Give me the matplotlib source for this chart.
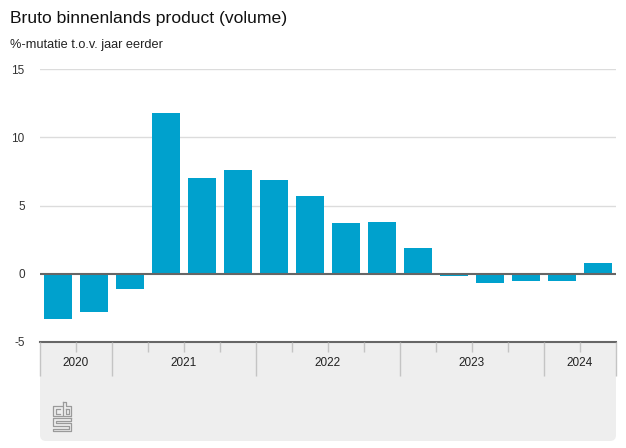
import numpy as np
import matplotlib
matplotlib.use("Agg")
import matplotlib.pyplot as plt
from matplotlib.patches import FancyBboxPatch

# data: year-on-year volume change, 2020 Q3 .. 2024 Q2
quarters = ["2020 Q3", "2020 Q4",
            "2021 Q1", "2021 Q2", "2021 Q3", "2021 Q4",
            "2022 Q1", "2022 Q2", "2022 Q3", "2022 Q4",
            "2023 Q1", "2023 Q2", "2023 Q3", "2023 Q4",
            "2024 Q1", "2024 Q2"]
values = [-3.3, -2.8, -1.1, 11.8, 7.0, 7.6, 6.9, 5.7, 3.7, 3.8,
          1.9, -0.2, -0.7, -0.5, -0.5, 0.8]
years = ["2020", "2021", "2022", "2023", "2024"]
year_counts = [2, 4, 4, 4, 2]
yticks = [-5, 0, 5, 10, 15]

plt.rcParams["font.family"] = ["Liberation Sans", "DejaVu Sans"]

W, H = 626, 448
fig = plt.figure(figsize=(W / 100, H / 100), dpi=100)

# pixel helpers (top-left origin)
def fx(px):
    return px / W

def fy(py):
    return 1 - py / H

x0, x1 = 40, 616
y_top, y_bot = 69, 342
ax = fig.add_axes([fx(x0), fy(y_bot), fx(x1) - fx(x0), fy(y_top) - fy(y_bot)])

x = np.arange(len(values))
ax.bar(x, values, width=0.78, color="#00a1cd", zorder=3)

ax.set_xlim(-0.5, len(values) - 0.5)
ax.set_ylim(-5, 15)
ax.set_yticks(yticks)
ax.set_yticklabels([str(t) for t in yticks], fontsize=8.5, color="#333333")
ax.tick_params(axis="y", length=0, pad=11)
for lbl in ax.get_yticklabels():
    lbl.set_horizontalalignment("right")
ax.set_xticks([])
for s in ["top", "right", "left"]:
    ax.spines[s].set_visible(False)
ax.spines["bottom"].set_color("#666666")
ax.spines["bottom"].set_linewidth(1.5)
for t in [5, 10, 15]:
    ax.axhline(t, color="#dcdcdc", lw=1, zorder=1)
ax.axhline(0, color="#666666", lw=1.5, zorder=4)

# grey panel under the axis
panel = FancyBboxPatch((x0 / 100, (H - 441) / 100), (x1 - x0) / 100, (441 - 336) / 100,
                       boxstyle="round,pad=0,rounding_size=0.06",
                       transform=fig.dpi_scale_trans, facecolor="#eeeeee",
                       edgecolor="none", zorder=-1)
fig.patches.append(panel)

# year band with dividers
ax2 = fig.add_axes([fx(x0), fy(376), fx(x1) - fx(x0), fy(342) - fy(376)])
ax2.set_xlim(-0.5, len(values) - 0.5)
ax2.set_ylim(1, 0)
ax2.axis("off")
bounds = np.cumsum([0] + year_counts) - 0.5
ax2.vlines(bounds, 0, 1, color="#c4c4c4", lw=1, clip_on=False)
minor = [b for b in np.arange(-0.5, len(values)) if not np.any(np.isclose(bounds, b))]
ax2.vlines(minor, 0, 0.3, color="#c4c4c4", lw=1, clip_on=False)
for i, yr in enumerate(years):
    ax2.text((bounds[i] + bounds[i + 1]) / 2, 0.62, yr, ha="center", va="center",
             fontsize=8.5, color="#222222")

# titles
fig.text(fx(10), fy(18), "Bruto binnenlands product (volume)", fontsize=12.6,
         ha="left", va="center", color="#111111")
fig.text(fx(10), fy(45), "%-mutatie t.o.v. jaar eerder", fontsize=9.2,
         ha="left", va="center", color="#222222")

# small cbs logo
logo_paths = [
    [(62, 406), (53, 406), (53, 416), (62, 416)],
    [(60, 408.5), (55.5, 408.5), (55.5, 413.5), (60, 413.5)],
    [(63, 402), (63, 416), (71, 416), (71, 406), (65.5, 406), (65.5, 402), (63, 402)],
    [(66, 408.5), (68.5, 408.5), (68.5, 413.5), (66, 413.5), (66, 408.5)],
    [(71, 418), (53, 418), (53, 425.5), (68.5, 425.5), (68.5, 428.5), (53, 428.5),
     (53, 431), (71, 431), (71, 423), (55.5, 423), (55.5, 420.5), (71, 420.5), (71, 418)],
]
for p in logo_paths:
    px_, py_ = zip(*p)
    fig.add_artist(plt.Line2D([fx(v) for v in px_], [fy(v) for v in py_],
                              color="#9a9a9a", lw=0.9, transform=fig.transFigure))

fig.savefig("out.png", dpi=100)
